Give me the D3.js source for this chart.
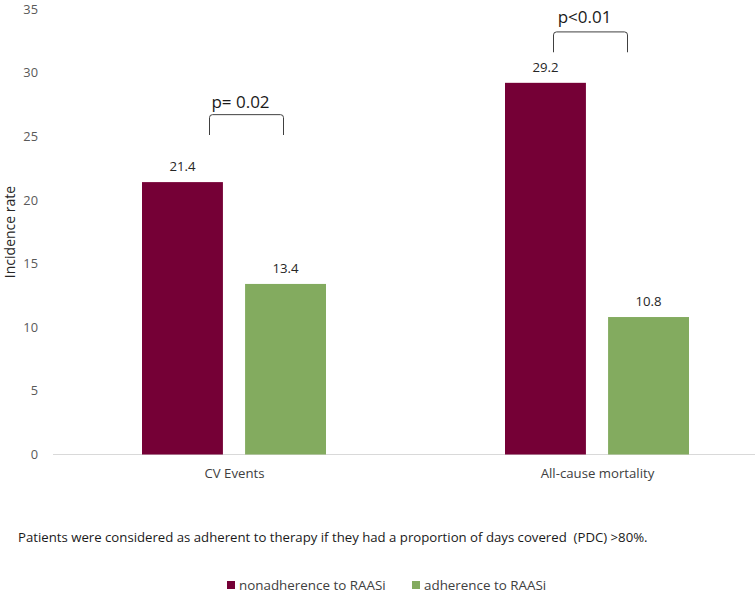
<!DOCTYPE html>
<html>
<head>
<meta charset="utf-8">
<script src="https://cdn.jsdelivr.net/npm/d3@7"></script>
<style>
  html, body { margin: 0; padding: 0; background: #fff; }
  svg { display: block; font-family: "Open Sans", "Noto Sans", sans-serif; }
</style>
</head>
<body>
<svg id="chart" width="755" height="593"></svg>
<script>
// ---- data ----
const categories = ["CV Events", "All-cause mortality"];
const seriesNames = ["nonadherence to RAASi", "adherence to RAASi"];
const nonadherence = [21.4, 29.2];
const adherence = [13.4, 10.8];
const yTicks = [0, 5, 10, 15, 20, 25, 30, 35];
const pLabels = ["p= 0.02", "p<0.01"];
const footnote = "Patients were considered as adherent to therapy if they had a proportion of days covered  (PDC) >80%.";
const yTitle = "Incidence rate";

// ---- styles / layout ----
const colors = ["#750036", "#83AB5F"];
const svg = d3.select("#chart");

const y = d3.scaleLinear().domain([0, 35]).range([454.5, 9]);
const x0 = d3.scaleBand().domain(categories).range([53, 779]).paddingInner(0).paddingOuter(0);
const x1 = d3.scaleBand().domain(seriesNames).range([89, 273]).paddingInner(0.215).paddingOuter(0);

const rows = categories.map((c, i) => ({
  cat: c,
  values: [
    { s: seriesNames[0], v: nonadherence[i] },
    { s: seriesNames[1], v: adherence[i] }
  ]
}));

// y axis (labels only)
const yAxis = d3.axisLeft(y).tickValues(yTicks).tickSize(0).tickPadding(0).tickFormat(d3.format("d"));
const gy = svg.append("g").attr("transform", "translate(38,0)").call(yAxis);
gy.select(".domain").remove();
gy.selectAll("text").attr("fill", "#595959").attr("font-size", "12.8px").attr("font-family", "Open Sans");

// x baseline
svg.append("line")
  .attr("x1", 53).attr("x2", 755)
  .attr("y1", y(0)).attr("y2", y(0))
  .attr("stroke", "#d9d9d9").attr("stroke-width", 1);

// x axis labels
const xAxis = d3.axisBottom(x0).tickSize(0).tickPadding(0);
const gx = svg.append("g").attr("transform", `translate(0,${y(0) + 14})`).call(xAxis);
gx.select(".domain").remove();
gx.selectAll("text").attr("fill", "#404040").attr("font-size", "13.2px").attr("font-family", "Open Sans");

// bars
const groups = svg.selectAll("g.grp").data(rows).join("g")
  .attr("class", "grp")
  .attr("transform", d => `translate(${x0(d.cat)},0)`);

groups.selectAll("rect").data(d => d.values).join("rect")
  .attr("x", d => x1(d.s))
  .attr("width", x1.bandwidth())
  .attr("y", d => y(d.v))
  .attr("height", d => y(0) - y(d.v))
  .attr("fill", (d, i) => colors[i]);

groups.selectAll("text.val").data(d => d.values).join("text")
  .attr("class", "val")
  .attr("x", d => x1(d.s) + x1.bandwidth() / 2)
  .attr("y", d => y(d.v) - 11)
  .attr("text-anchor", "middle")
  .attr("fill", "#262626")
  .attr("font-size", "13.2px")
  .text(d => d.v.toFixed(1));

// significance brackets
const bracketTop = [26.7, 33.2];
const bracketBottom = [25.1, 31.6];
const bracketLeftOff = [-25, -44];
const bracketRightOff = [49, 30];
const pLabelY = [27.2, 33.9];
const r = 3;
categories.forEach((c, i) => {
  const cx = x0(c) + x0.bandwidth() / 2;
  const xl = cx + bracketLeftOff[i], xr = cx + bracketRightOff[i];
  const yt = y(bracketTop[i]), yb = y(bracketBottom[i]);
  const p = d3.path();
  p.moveTo(xl, yb);
  p.lineTo(xl, yt + r);
  p.quadraticCurveTo(xl, yt, xl + r, yt);
  p.lineTo(xr - r, yt);
  p.quadraticCurveTo(xr, yt, xr, yt + r);
  p.lineTo(xr, yb);
  svg.append("path").attr("d", p.toString())
    .attr("fill", "none").attr("stroke", "#404040").attr("stroke-width", 1);
  svg.append("text")
    .attr("x", (xl + xr) / 2 - 6)
    .attr("y", y(pLabelY[i]))
    .attr("text-anchor", "middle")
    .attr("fill", "#1a1a1a")
    .attr("font-size", "17px")
    .text(pLabels[i]);
});

// y title
svg.append("text")
  .attr("transform", "translate(15,232) rotate(-90)")
  .attr("text-anchor", "middle")
  .attr("fill", "#262626")
  .attr("font-size", "14px")
  .text(yTitle);

// footnote
svg.append("text")
  .attr("x", 18).attr("y", 542)
  .attr("fill", "#1a1a1a")
  .attr("font-size", "13.2px")
  .style("white-space", "pre")
  .text(footnote);

// legend
const legendX = [227, 412];
const lg = svg.selectAll("g.lg").data(seriesNames).join("g")
  .attr("class", "lg")
  .attr("transform", (d, i) => `translate(${legendX[i]},581)`);
lg.append("rect").attr("width", 8).attr("height", 8).attr("fill", (d, i) => colors[i]);
lg.append("text").attr("x", 12).attr("y", 8.5)
  .attr("fill", "#404040").attr("font-size", "13.4px").text(d => d);
</script>
</body>
</html>
